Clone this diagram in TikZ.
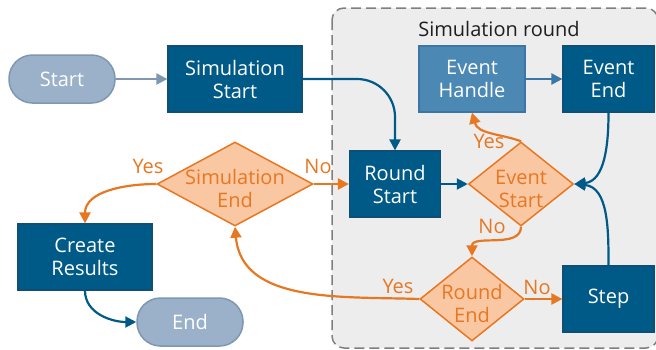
\documentclass[tikz,border=0pt]{standalone}
\usepackage{fontspec}
\setmainfont{Open Sans}
\usetikzlibrary{arrows.meta,shapes.geometric,positioning}
\definecolor{procfill}{HTML}{005A87}
\definecolor{procline}{HTML}{0F4E75}
\definecolor{evfill}{HTML}{4B88B4}
\definecolor{evline}{HTML}{3B76A4}
\definecolor{termfill}{HTML}{9AB1C9}
\definecolor{termline}{HTML}{7F97B1}
\definecolor{decfill}{HTML}{F9C7A1}
\definecolor{decline}{HTML}{E87722}
\definecolor{loopfill}{HTML}{EDEDED}
\definecolor{loopline}{HTML}{7F7F7F}
\tikzset{
  txt/.style={font=\fontsize{20}{23}\selectfont, align=center, inner sep=0pt},
  proc/.style={
    txt,
    draw=procline,
    fill=procfill,
    text=white,
    line width=1.2pt,
    minimum width=134pt,
    minimum height=66pt
  },
  evproc/.style={proc, draw=evline, fill=evfill},
  term/.style={txt, draw=termline, fill=termfill, text=white, line width=1.5pt,
    rounded corners=23.5pt, minimum width=106pt, minimum height=48pt},
  decision/.style={
    diamond,
    draw=decline,
    fill=decfill,
    line width=1.5pt,
    inner sep=0pt,
    minimum height=84pt,
    label={[txt, text=decline, yshift=-4.5pt]center:#1}
  },
  answer/.style={txt, text=decline},
  flow/.style={-{Triangle[length=11pt,width=11pt]}, line width=2.2pt, draw=procfill},
  evflow/.style={flow, draw=evline},
  termflow/.style={flow, draw=termline},
  decflow/.style={flow, draw=decline},
}

\begin{document}
\begin{tikzpicture}[x=1pt,y=-1pt]
  \clip (0,0) rectangle (656,349);
  % the round loop
  \draw[loopline, fill=loopfill, line width=1.5pt, dash pattern=on 10pt off 5pt,
    rounded corners=12pt] (332,8) rectangle (658,348);
  \node[txt, text=black!88] (looptitle) at (499,29) {Simulation round};

  \node[term] (start) at (62,79) {Start};
  \node[proc] (simstart) at (235,79) {Simulation\\Start};
  \node[decision={Simulation\\End}, minimum width=156pt] (simend) at (235,184) {};
  \node[proc] (results) at (85,257) {Create\\Results};
  \node[term] (end) at (190,322) {End};

  \node[proc, minimum width=91pt] (roundstart) at (395,184) {Round\\Start};
  \node[decision={Event\\Start}, minimum width=105pt] (evstart) at (521,184) {};
  \node[evproc, minimum width=106pt] (evhandle) at (472,79) {Event\\Handle};
  \node[proc, minimum width=91pt] (evend) at (608.5,79) {Event\\End};
  \node[decision={Round\\End}, minimum width=104pt] (roundend) at (472,299) {};
  \node[proc, minimum width=91pt] (step) at (608.5,299) {Step};

  \draw[termflow] (start) -- (simstart);
  \draw[flow, rounded corners=38pt] (simstart.east) -| (roundstart.north);
  \draw[decflow] (simend.west) to[out=180,in=90] (results.north);
  \draw[decflow] (simend.east) -- (roundstart.west);
  \draw[flow] (roundstart) -- (evstart);
  \draw[decflow] (evstart.north) to[out=160,in=-75] (evhandle.south);
  \draw[evflow] (evhandle) -- (evend);
  \draw[flow] (evend.south) to[out=-90,in=5] (evstart.east);
  \draw[flow] (step.north) to[out=90,in=-5] (evstart.east);
  \draw[decflow] (evstart.south) to[out=-90,in=90] (roundend.north);
  \draw[decflow] (roundend) -- (step);
  \draw[decflow] (roundend.west) to[out=178,in=-85] (simend.south);
  \draw[flow] (results.south) to[out=-90,in=180] (end.west);

  \node[answer] (yes1) at (148,166) {Yes};
  \node[answer] (no1) at (318,166) {No};
  \node[answer] (yes2) at (489,141) {Yes};
  \node[answer] (no2) at (492,226) {No};
  \node[answer] (yes3) at (398,286) {Yes};
  \node[answer] (no3) at (537,287) {No};
\end{tikzpicture}
\end{document}
